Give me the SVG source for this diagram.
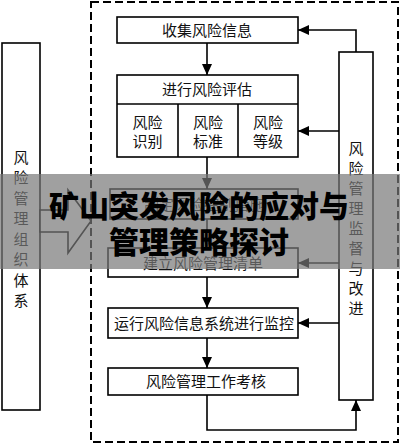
<svg xmlns="http://www.w3.org/2000/svg" width="400" height="445" viewBox="0 0 400 445">
<defs>
<style>
.box{fill:#fff;stroke:#000;stroke-width:1.6}
.ln{fill:none;stroke:#000;stroke-width:1.6}
.t{font-family:"Noto Sans CJK SC","Noto Sans",sans-serif;font-size:15px;fill:#111;text-anchor:middle}
.title{font-family:"Noto Sans CJK SC","Noto Sans",sans-serif;font-size:30px;font-weight:900;fill:#000;text-anchor:middle}
</style>
<marker id="ah" markerWidth="11" markerHeight="10" refX="11" refY="5" orient="auto" markerUnits="userSpaceOnUse">
<path d="M0,0 L11,5 L0,10 z" fill="#000"/>
</marker>
</defs>
<rect width="400" height="445" fill="#fff"/>
<rect x="91" y="2" width="307" height="440" fill="none" stroke="#000" stroke-width="2" stroke-dasharray="8,4"/>

<g id="org">
<rect class="box" x="2" y="43" width="38" height="367"/>
<text class="t" x="21" y="162.5">风</text>
<text class="t" x="21" y="183">险</text>
<text class="t" x="21" y="203.5">管</text>
<text class="t" x="21" y="224">理</text>
<text class="t" x="21" y="244.5">组</text>
<text class="t" x="21" y="265">织</text>
<text class="t" x="21" y="285.5">体</text>
<text class="t" x="21" y="306">系</text>
</g>
<g id="bigarrow">
<polygon points="40,210 68,210 68,190 91,221 68,253 68,232 40,232" fill="#fff" stroke="#000" stroke-width="1.6"/>
</g>

<g id="collect">
<rect class="box" x="117" y="17" width="181" height="26"/>
<text class="t" x="207" y="35.5">收集风险信息</text>
</g>
<g id="assess">
<rect class="box" x="117" y="75" width="181" height="82"/>
<line class="ln" x1="117" y1="104" x2="298" y2="104"/>
<line class="ln" x1="178" y1="104" x2="178" y2="157"/>
<line class="ln" x1="238" y1="104" x2="238" y2="157"/>
<text class="t" x="207" y="94.5">进行风险评估</text>
<text class="t" x="147.5" y="127.5">风险</text>
<text class="t" x="147.5" y="146.5">识别</text>
<text class="t" x="208" y="127.5">风险</text>
<text class="t" x="208" y="146.5">标准</text>
<text class="t" x="268" y="127.5">风险</text>
<text class="t" x="268" y="146.5">等级</text>
</g>
<g id="measures">
<rect class="box" x="110" y="189" width="188" height="30"/>
<text class="t" x="204" y="209.5">制定风险控制措施</text>
</g>
<g id="list">
<rect class="box" x="108" y="248" width="190" height="29"/>
<text class="t" x="203" y="268.5">建立风险管理清单</text>
</g>
<g id="monitor">
<rect class="box" x="108" y="308" width="190" height="30"/>
<text class="t" x="204" y="328.5">运行风险信息系统进行监控</text>
</g>
<g id="exam">
<rect class="box" x="108" y="368" width="190" height="27"/>
<text class="t" x="206" y="387">风险管理工作考核</text>
</g>
<g id="supervise">
<rect class="box" x="339" y="52" width="34" height="348"/>
<text class="t" x="356" y="153.5">风</text>
<text class="t" x="356" y="173.5">险</text>
<text class="t" x="356" y="193.5">管</text>
<text class="t" x="356" y="213.5">理</text>
<text class="t" x="356" y="233.5">监</text>
<text class="t" x="356" y="253.5">督</text>
<text class="t" x="356" y="273.5">与</text>
<text class="t" x="356" y="293.5">改</text>
<text class="t" x="356" y="313.5">进</text>
</g>

<g id="connectors">
<path class="ln" d="M207,43 V75" marker-end="url(#ah)"/>
<path class="ln" d="M207,157 V189" marker-end="url(#ah)"/>
<path class="ln" d="M207,219 V248" marker-end="url(#ah)"/>
<path class="ln" d="M207,277 V308" marker-end="url(#ah)"/>
<path class="ln" d="M207,338 V368" marker-end="url(#ah)"/>
<path class="ln" d="M207,395 V430 H356 V400" marker-end="url(#ah)"/>
<path class="ln" d="M356,52 V30 H298" marker-end="url(#ah)"/>
<path class="ln" d="M339,131 H298" marker-end="url(#ah)"/>
<path class="ln" d="M339,263 H298" marker-end="url(#ah)"/>
<path class="ln" d="M339,323 H298" marker-end="url(#ah)"/>
</g>

<g id="banner">
<rect x="0" y="174" width="400" height="95" fill="#787878" fill-opacity="0.7"/>
<text class="title" x="199" y="217">矿山突发风险的应对与</text>
<text class="title" x="199" y="253">管理策略探讨</text>
</g>
</svg>
